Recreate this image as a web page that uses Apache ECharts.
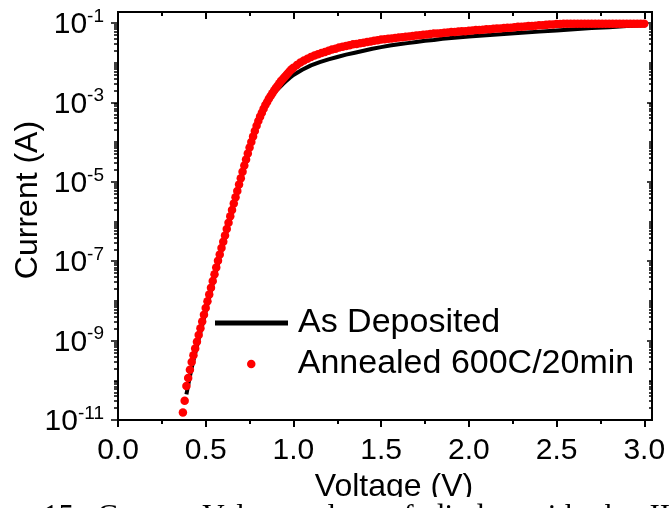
<!DOCTYPE html>
<html><head><meta charset="utf-8">
<script src="https://cdn.jsdelivr.net/npm/echarts@6/dist/echarts.min.js"></script>
<style>html,body{margin:0;padding:0;background:#fff}#c{width:669px;height:508px}</style>
</head><body><div id="c"></div>
<script>
// ---------------- data ----------------
const seriesNames = ['As Deposited', 'Annealed 600C/20min'];
const xTickValues = [0, 0.5, 1.0, 1.5, 2.0, 2.5, 3.0];
const xMinorTickValues = [0.25, 0.75, 1.25, 1.75, 2.25, 2.75];
const yTickExponents = [-11, -9, -7, -5, -3, -1];      // labelled decades: 10^n A
const yOtherDecades = [-10, -8, -6, -4, -2];
const axisTitleX = 'Voltage (V)';
const axisTitleY = 'Current (A)';
const captionText = '15.  Current-Voltage  plots  of  diodes  with  the  III';

// As Deposited: voltage (V) and log10(current / A)
const depositedVoltage = [0.39,0.40,0.41,0.42,0.43,0.44,0.45,0.46,
  0.48,0.50,0.52,0.54,0.56,0.58,0.60,0.62,0.64,0.66,0.68,0.70,0.72,0.74,0.76,0.78,0.80,0.82,0.84,0.86,0.88,0.90,0.92,0.94,0.96,0.98,1.00,
  1.05,1.10,1.15,1.20,1.25,1.30,1.35,1.40,1.45,1.50,1.55,1.60,1.65,1.70,1.75,1.80,1.85,1.90,1.95,2.00,
  2.10,2.20,2.30,2.40,2.50,2.60,2.70,2.80,2.90,3.00];
const depositedLog10Current = [-10.35,-10.12,-9.90,-9.69,-9.50,-9.32,-9.14,-8.96,
  -8.61,-8.26,-7.91,-7.57,-7.23,-6.89,-6.56,-6.23,-5.90,-5.58,-5.26,-4.94,-4.63,-4.33,-4.04,-3.77,-3.50,-3.28,-3.09,-2.94,-2.82,-2.72,-2.63,-2.54,-2.46,-2.38,-2.31,
  -2.18,-2.07,-1.99,-1.92,-1.86,-1.80,-1.75,-1.70,-1.65,-1.61,-1.57,-1.54,-1.51,-1.48,-1.45,-1.43,-1.40,-1.38,-1.36,-1.34,
  -1.31,-1.28,-1.25,-1.22,-1.19,-1.16,-1.13,-1.11,-1.08,-1.06];

// Annealed 600C/20min: voltage (V) and log10(current / A)
const annealedVoltage = [
  0.37,0.38,0.39,0.40,0.41,0.42,0.43,0.44,0.45,0.46,
  0.47,0.48,0.49,0.50,0.51,0.52,0.53,0.54,0.55,0.56,
  0.57,0.58,0.59,0.60,0.61,0.62,0.63,0.64,0.65,0.66,
  0.67,0.68,0.69,0.70,0.71,0.72,0.73,0.74,0.75,0.76,
  0.77,0.78,0.79,0.80,0.81,0.82,0.83,0.84,0.85,0.86,
  0.87,0.88,0.89,0.90,0.91,0.92,0.93,0.94,0.95,0.96,
  0.97,0.98,0.99,1.00,
  1.02,1.04,1.06,1.08,1.10,1.12,1.14,1.16,1.18,1.20,
  1.22,1.24,1.26,1.28,1.30,1.32,1.34,1.36,1.38,1.40,
  1.42,1.44,1.46,1.48,1.50,1.52,1.54,1.56,1.58,1.60,
  1.62,1.64,1.66,1.68,1.70,1.72,1.74,1.76,1.78,1.80,
  1.82,1.84,1.86,1.88,1.90,1.92,1.94,1.96,1.98,2.00,
  2.02,2.04,2.06,2.08,2.10,2.12,2.14,2.16,2.18,2.20,
  2.22,2.24,2.26,2.28,2.30,2.32,2.34,2.36,2.38,2.40,
  2.42,2.44,2.46,2.48,2.50,2.52,2.54,2.56,2.58,2.60,
  2.62,2.64,2.66,2.68,2.70,2.72,2.74,2.76,2.78,2.80,
  2.82,2.84,2.86,2.88,2.90,2.92,2.94,2.96,2.98,3.00];
const annealedLog10Current = [
  -10.81,-10.51,-10.14,-9.94,-9.73,-9.54,-9.37,-9.20,-9.03,-8.86,
  -8.69,-8.52,-8.35,-8.18,-8.01,-7.84,-7.67,-7.50,-7.33,-7.16,
  -6.99,-6.83,-6.67,-6.51,-6.35,-6.19,-6.03,-5.87,-5.71,-5.55,
  -5.39,-5.23,-5.07,-4.91,-4.75,-4.59,-4.44,-4.29,-4.14,-4.00,
  -3.86,-3.72,-3.59,-3.47,-3.36,-3.26,-3.16,-3.07,-2.99,-2.91,
  -2.84,-2.77,-2.70,-2.64,-2.58,-2.52,-2.46,-2.41,-2.36,-2.31,
  -2.26,-2.21,-2.17,-2.13,
  -2.06,-2.00,-1.95,-1.90,-1.86,-1.82,-1.79,-1.76,-1.73,-1.70,
  -1.67,-1.65,-1.62,-1.60,-1.58,-1.56,-1.54,-1.53,-1.51,-1.50,
  -1.48,-1.47,-1.45,-1.44,-1.42,-1.41,-1.40,-1.39,-1.38,-1.37,
  -1.36,-1.35,-1.34,-1.33,-1.32,-1.31,-1.30,-1.29,-1.28,-1.27,
  -1.27,-1.26,-1.25,-1.24,-1.23,-1.23,-1.22,-1.21,-1.21,-1.20,
  -1.19,-1.18,-1.18,-1.17,-1.16,-1.16,-1.15,-1.14,-1.14,-1.13,
  -1.12,-1.12,-1.11,-1.10,-1.10,-1.09,-1.08,-1.08,-1.07,-1.06,
  -1.06,-1.05,-1.04,-1.04,-1.03,-1.03,-1.02,-1.02,-1.02,-1.02,
  -1.02,-1.02,-1.02,-1.02,-1.02,-1.02,-1.02,-1.02,-1.02,-1.02,
  -1.02,-1.02,-1.02,-1.02,-1.02,-1.02,-1.02,-1.02,-1.02,-1.02];

// ---------------- chart ----------------
const FONT = "'Liberation Sans', Arial, Helvetica, sans-serif";
const X_MIN = 0, X_MAX = 3.044;
const Y_MIN = -11, Y_MAX = -0.726;

// log-style minor tick positions (2..9 within each decade)
const yMinorTicks = [];
for (let n = -11; n < 0; n++) {
  for (let k = 2; k <= 9; k++) {
    const v = n + Math.log10(k);
    if (v < Y_MAX) yMinorTicks.push(v);
  }
}
const yShortTicks = yOtherDecades.concat(yMinorTicks);

const pair = (xs, ys) => xs.map((x, i) => [x, ys[i]]);

function xAx(position, ticks, len, inside, opts) {
  return Object.assign({
    type: 'value', position, min: X_MIN, max: X_MAX, interval: 0.5,
    splitLine: { show: false },
    axisLine: { show: true, onZero: false, lineStyle: { color: '#000', width: 2 } },
    axisTick: { show: true, inside, length: len, customValues: ticks, lineStyle: { color: '#000', width: 2 } },
    axisLabel: { show: false, customValues: ticks }
  }, opts || {});
}
function yAx(position, ticks, len, inside, opts) {
  return Object.assign({
    type: 'value', position, min: Y_MIN, max: Y_MAX, interval: 2,
    splitLine: { show: false },
    axisLine: { show: true, onZero: false, lineStyle: { color: '#000', width: 2 } },
    axisTick: { show: true, inside, length: len, customValues: ticks, lineStyle: { color: '#000', width: 1.5 } },
    axisLabel: { show: false, customValues: ticks }
  }, opts || {});
}

const chart = echarts.init(document.getElementById('c'), null, { renderer: 'canvas' });
chart.setOption({
  animation: false,
  backgroundColor: '#fff',
  grid: { left: 118, right: 17, top: 12, bottom: 83, containLabel: false },
  xAxis: [
    xAx('bottom', xTickValues, 7, false, {
      name: axisTitleX, nameLocation: 'middle', nameGap: 48,
      nameTextStyle: { fontFamily: FONT, fontSize: 32, color: '#000', padding: [0, 0, 0, 18] },
      axisLabel: {
        show: true, customValues: xTickValues, margin: 16,
        fontFamily: FONT, fontSize: 30, color: '#000',
        formatter: v => Number(v).toFixed(1)
      }
    }),
    xAx('bottom', xMinorTickValues, 4, false),
    xAx('top', xTickValues, 7, true),
    xAx('top', xMinorTickValues, 4, true)
  ],
  yAxis: [
    yAx('left', yTickExponents, 7, false, {
      axisLabel: {
        show: true, customValues: yTickExponents, margin: 14,
        formatter: v => '{b|10}{s|' + v + '}',
        rich: {
          b: { fontFamily: FONT, fontSize: 30, color: '#000', padding: [4, 0, 0, 0] },
          s: { fontFamily: FONT, fontSize: 19, color: '#000', padding: [0, 0, 13, 0] }
        }
      }
    }),
    yAx('left', yShortTicks, 4, false),
    yAx('right', yTickExponents, 5, true),
    yAx('right', yShortTicks, 3, true)
  ],
  legend: [
    {
      data: [{ name: seriesNames[0], icon: 'rect' }],
      left: 215, top: 306, padding: 0, orient: 'vertical', selectedMode: false,
      itemWidth: 73, itemHeight: 5,
      textStyle: { fontFamily: FONT, fontSize: 34, color: '#000', padding: [0, 0, 0, 5] }
    },
    {
      data: [{ name: seriesNames[1], icon: 'circle' }],
      left: 247, top: 347, padding: 0, orient: 'vertical', selectedMode: false,
      itemWidth: 73, itemHeight: 8.5,
      textStyle: { fontFamily: FONT, fontSize: 34, color: '#000', padding: [0, 0, 0, 5] }
    }
  ],
  series: [
    {
      name: seriesNames[0], type: 'line', xAxisIndex: 0, yAxisIndex: 0,
      data: pair(depositedVoltage, depositedLog10Current),
      showSymbol: false, symbol: 'none', smooth: false,
      color: '#000', lineStyle: { color: '#000', width: 4 }, z: 2
    },
    {
      name: seriesNames[1], type: 'scatter', xAxisIndex: 0, yAxisIndex: 0,
      data: pair(annealedVoltage, annealedLog10Current),
      symbol: 'circle', symbolSize: 8.5,
      itemStyle: { color: '#ff0000', opacity: 1 }, z: 3
    }
  ],
  graphic: [
    {
      type: 'text', x: 28, y: 200, rotation: Math.PI / 2, z: 50,
      style: { text: axisTitleY, fontFamily: FONT, fontSize: 32, fill: '#000', align: 'center', verticalAlign: 'middle' }
    },
    { type: 'rect', shape: { x: 0, y: 497, width: 669, height: 11 }, style: { fill: '#fff' }, z: 100 },
    {
      type: 'text', x: 43, y: 518, z: 101,
      style: { text: captionText, fontFamily: "'Liberation Serif', 'Times New Roman', serif", fontSize: 31, fill: '#000', align: 'left', verticalAlign: 'middle' }
    }
  ]
});
</script>
</body></html>
